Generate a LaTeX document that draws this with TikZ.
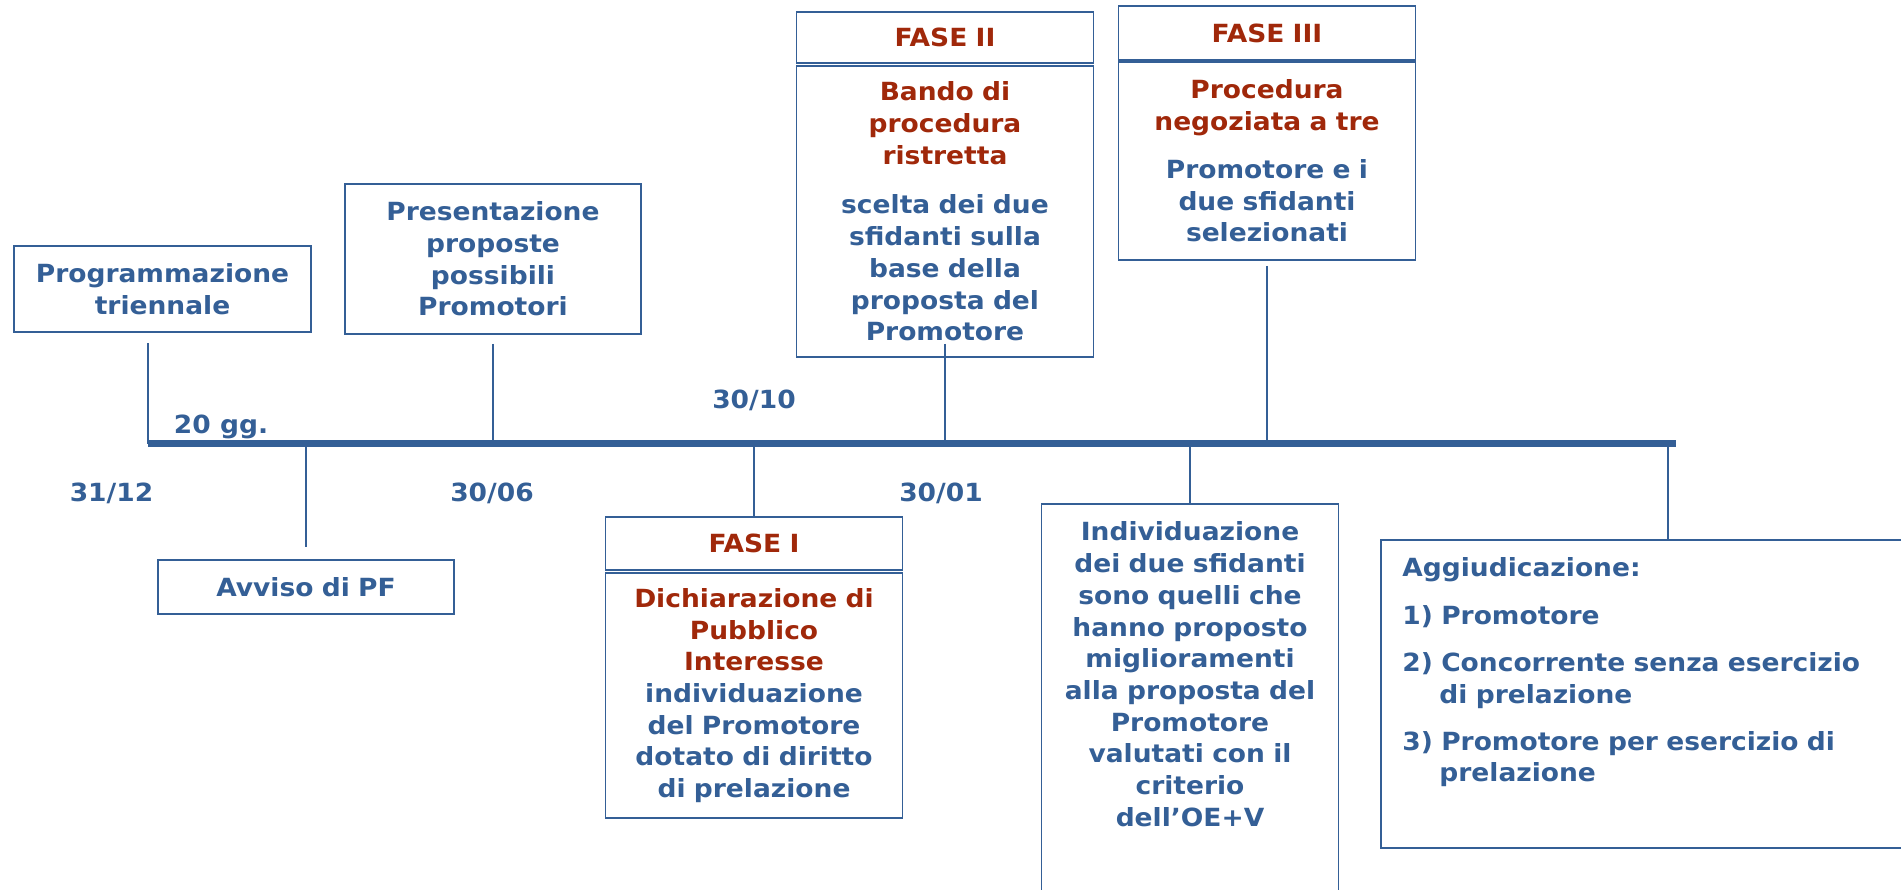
\documentclass[tikz,border=0pt]{standalone}
\usepackage{fontspec}
\setmainfont{DejaVu Sans}[FakeStretch=1.06]
\definecolor{bl}{RGB}{52,95,150}
\definecolor{rd}{RGB}{160,40,10}
\newcommand{\ftx}{\fontsize{25}{31.7}\selectfont\bfseries}
\tikzset{
  box/.style={draw=bl, line width=1.8pt, minimum width=297pt, text width=290pt, align=center, inner sep=0pt, font=\ftx, text=bl},
  hdr/.style={box, text=rd},
  lab/.style={font=\ftx, text=bl, inner sep=0pt, anchor=base},
  conn/.style={draw=bl, line width=1.8pt},
  tline/.style={draw=bl, line width=7pt},
}
\begin{document}
\begin{tikzpicture}[x=1pt,y=-1pt]
\path[fill=white] (0,0) rectangle (1901,889);
\useasboundingbox (0,0) rectangle (1901,889);

% timeline
\coordinate (tl0) at (148,443.5);
\coordinate (tl1) at (1676,443.5);
\coordinate (tagg) at (1668,443.5);
\draw[tline] (tl0) -- (tl1);

% boxes above
\node[box, minimum height=86pt] (prog) at (162.5,289) {Programmazione\\triennale};
\node[box, minimum height=150pt, minimum width=296pt] (pres) at (493,259) {Presentazione\\proposte\\possibili\\Promotori};
\node[hdr, minimum height=51pt] (f2h) at (945,37.5) {FASE II};
\node[box, minimum height=291pt] (f2b) at (945,211.5) {\color{rd}Bando di\\procedura\\ristretta\\[18pt]\color{bl}scelta dei due\\sfidanti sulla\\base della\\proposta del\\Promotore};
\node[hdr, minimum height=54pt] (f3h) at (1267,33) {FASE III};
\node[box, minimum height=198pt] (f3b) at (1267,161) {\color{rd}Procedura\\negoziata a tre\\[16pt]\color{bl}Promotore e i\\due sfidanti\\selezionati};

% boxes below
\node[box, minimum height=54pt, minimum width=296pt] (avviso) at (306,587) {Avviso di PF};
\node[hdr, minimum height=53pt] (f1h) at (754,543.5) {FASE I};
\node[box, minimum height=245pt] (f1b) at (754,695.5) {\color{rd}Dichiarazione di\\Pubblico\\Interesse\\\color{bl}individuazione\\del Promotore\\dotato di diritto\\di prelazione};
\node[box, anchor=north, inner xsep=3.5pt, inner ysep=18pt] (indiv) at (1190,503)
  {\begin{minipage}[t][400pt][t]{290pt}\centering Individuazione\\dei due sfidanti\\sono quelli che\\hanno proposto\\miglioramenti\\alla proposta del\\Promotore\\valutati con il\\criterio\\dell’OE+V\end{minipage}};
\node[box, anchor=north west, text width=500pt, align=left, inner xsep=21.5pt, inner ysep=18pt] (aggiud) at (1380,539)
  {\begin{minipage}[t][272pt][t]{500pt}\raggedright Aggiudicazione:\\[15.5pt]1) Promotore\\[15.5pt]2) Concorrente senza esercizio\\\hspace*{37pt}di prelazione\\[15.5pt]3) Promotore per esercizio di\\\hspace*{37pt}prelazione\end{minipage}};

% labels
\node[lab] (g20) at (221,433) {20 gg.};
\node[lab] (d3112) at (111.5,501.5) {31/12};
\node[lab] (d3006) at (492,501.5) {30/06};
\node[lab] (d3010) at (754,408.5) {30/10};
\node[lab] (d3001) at (941,501.5) {30/01};

% connectors
\draw[conn, shorten >=10pt] (tl0) -- (tl0 |- prog.south);
\draw[conn, shorten <=9pt] (pres.south) -- (pres.south |- tl0);
\draw[conn, shorten <=-14pt] (f2b.south) -- (f2b.south |- tl0);
\draw[conn, shorten <=5pt] (f3b.south) -- (f3b.south |- tl0);
\draw[conn, shorten >=12pt] (avviso.north |- tl0) -- (avviso.north);
\draw[conn] (f1h.north |- tl0) -- (f1h.north);
\draw[conn] (indiv.north |- tl0) -- (indiv.north);
\draw[conn] (tagg) -- (tagg |- aggiud.north);
\end{tikzpicture}
\end{document}
